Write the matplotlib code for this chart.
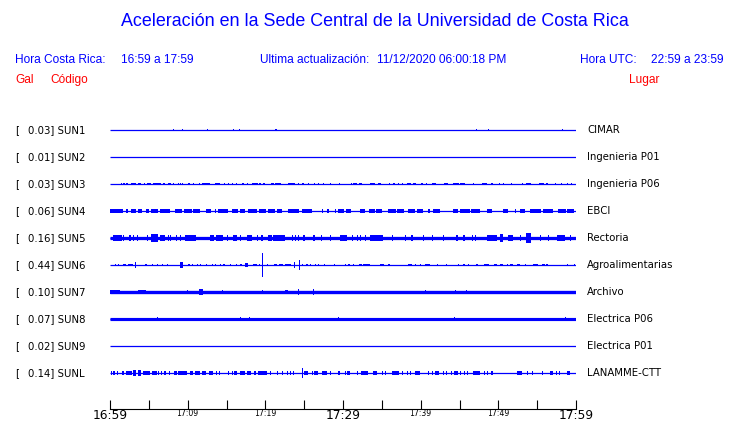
import matplotlib
matplotlib.use("Agg")
import matplotlib.pyplot as plt
from matplotlib import transforms

BLUE = "#0000ff"
RED = "#ff0000"

title = "Aceleración en la Sede Central de la Universidad de Costa Rica"
hora_cr = "16:59 a 17:59"
hora_utc = "22:59 a 23:59"
actualizacion = "11/12/2020 06:00:18 PM"

# stations (top to bottom)
codes = ["SUN1", "SUN2", "SUN3", "SUN4", "SUN5", "SUN6", "SUN7", "SUN8", "SUN9", "SUNL"]
peak_gal = [0.03, 0.01, 0.03, 0.06, 0.16, 0.44, 0.10, 0.07, 0.02, 0.14]
places = ["CIMAR", "Ingenieria P01", "Ingenieria P06", "EBCI", "Rectoria",
          "Agroalimentarias", "Archivo", "Electrica P06", "Electrica P01", "LANAMME-CTT"]

# minutes after 16:59, 1 row = 1 Gal
tick_minutes = list(range(0, 61, 5))
tick_text = {0: "16:59", 10: "17:09", 20: "17:19", 30: "17:29", 40: "17:39", 50: "17:49", 60: "17:59"}

# continuous noise band (half width, Gal) and usual burst amplitude
band = [0, 0, 0, 0, 0.06, 0, 0.062, 0.058, 0, 0]
burst_amp = [0.055, 0, 0.055, 0.06, 0.095, 0.055, 0.085, 0.085, 0, 0.063]

# bursts: minute or (minute, duration)
bursts_sun1 = [8.07, 9.23, 12.5, 15.8, 16.6, 21.3, 47.1, 48.7, 58.2]
bursts_sun2 = []
bursts_sun3 = [1.42, 1.72, (2.02, .26), (2.7, .6), 3.65, 3.86, 4.42, (4.81, .43), (5.58, 1.0), 6.87,
               (7.43, .43), 8.15, 8.7, 9.0, 9.3, (10.1, .26), 10.7, 11.4, (11.9, 1.0), (13.5, .64),
               14.7, 15.15, 15.7, 16.2, 17.04, 17.6, (18.3, .7), (19.2, .26), (19.7, .3), (20.7, .4),
               (21.3, .77), (22.9, .86), 24.2, (24.7, .34), 25.5, 26.3, 26.8, 27.4, 28.3, 29.5, 31.0,
               (31.3, .5), (32.0, .5), (33.5, .56), (34.5, .43), 35.96, 36.5, 37.1, 37.6, (38.2, .5),
               (39.0, .4), 40.1, 40.7, (41.5, .5), (43.0, .56), (44.2, .7), (45.1, .6), 46.7,
               (47.9, .6), (49.0, .35), 50.1, 50.6, 51.6, 53.0, (53.6, .6), (55.3, .6), 56.2, 57.3,
               58.1, 58.8, 59.3]
bursts_sun4 = [(0.0, 1.7), (2.0, .26), (2.7, .6), (3.65, .5), (4.6, .43), (5.3, .86), (6.4, 1.3),
               (8.4, .9), (9.5, 1.0), (10.7, .86), (12.4, .64), 13.5, (13.95, 1.2), (15.7, .8),
               (16.7, .7), (17.8, 1.1), (19.2, .9), (20.3, .9), (21.5, .64), (22.9, 1.4), (24.7, 1.3),
               27.3, 28.0, 29.0, (29.4, .7), (30.4, .6), (32.2, .64), (33.3, .8), (34.3, .7),
               (35.8, 1.0), (37.0, .9), (38.4, .9), (39.5, .8), 41.0, (41.6, .86), (44.2, .64),
               (45.1, 1.2), (46.5, 1.1), (48.5, .64), (50.6, .64), 52.1, (52.8, .64), (54.1, 1.4),
               (55.7, 1.4), (57.7, 1.0), (58.9, .9)]
bursts_sun5 = [(0.43, 1.07), 1.7, 2.5, 3.0, 3.5, 4.7, (6.4, .64), 7.5, 7.7, 8.5, 9.0, (12.9, .43),
               (13.7, .86), 15.0, (15.9, .43), 16.7, (17.6, .64), 18.9, 19.5, (20.4, .43), 23.4, 23.8,
               24.2, 24.9, 26.2, 27.2, 28.3, (29.6, .86), 31.1, 31.8, 32.2, 32.8, (33.5, 1.7), 36.3,
               38.0, 38.8, 40.3, 41.4, 42.9, 44.6, 45.5, 46.6, 47.0, (48.5, 1.3), (51.3, .64), 52.8,
               55.4, 56.4, (57.5, 1.07), 59.2]
bursts_sun6 = [0.64, 1.07, (1.63, .43), (2.36, .64), 4.55, 5.36, 6.0, 6.65, 7.3, 10.1, 10.6, 11.2,
               11.6, 12.4, 13.1, 13.5, 14.2, 14.6, 15.4, 16.2, 16.8, (18.4, .5), 19.2, 20.2, (21.1, .35),
               (21.8, .43), 22.5, (22.7, .64), (24.7, .2), 25.3, 25.7, 26.4, 26.8, 27.5, 28.8, 30.2,
               30.7, 31.3, (32.0, .43), (32.6, .86), (34.8, .43), (35.8, .2), (38.4, .43), 39.3, 39.9,
               (40.6, .56), 42.1, 43.3, 44.8, 45.5, 46.1, (47.1, .3), (48.1, .64), (49.4, .43),
               (50.2, .43), 51.1, (51.5, .43), (52.4, .43), 53.4, (54.5, .64), (55.6, .43), 56.2,
               58.8, 59.7]
bursts_sun7 = [(0.0, 1.3), (3.6, 1.07), 9.9, 14.4, 19.6, (22.5, .43), 40.6, 45.8]
bursts_sun8 = [6.0, 16.7, 17.9, 29.3, 44.3, 58.6]
bursts_sun9 = []
bursts_sunl = [0.13, 0.43, 0.94, 1.6, (2.06, .73), (4.3, .86), (5.4, .64), 6.2, 6.6, 7.0, 7.6,
               (8.3, .3), (8.8, 1.07), (10.3, .43), (10.9, .7), (11.8, .6), 13.6, 14.0, 15.2, 15.7,
               (16.0, .3), (16.7, .64), (17.7, .43), 18.6, (19.1, 1.07), 20.6, 21.5, 22.1, 22.75, 23.2,
               23.6, (25.0, .5), 26.0, (26.3, .5), (27.3, .64), 28.3, 29.4, 30.2, 30.5, 30.7, 31.8,
               (32.3, .86), (33.9, .5), 35.0, 35.4, (36.3, .86), 37.6, 38.2, 38.6, (39.3, .56), 40.9,
               41.4, (41.8, .56), 42.9, 43.3, 43.9, (44.3, .56), 45.1, 45.6, 46.0, (46.7, .94), 48.1,
               48.5, 49.1, (52.4, .64), 53.7, 54.3, 55.6, (56.6, .43), 57.4, 57.8, (58.9, .35)]
bursts = [bursts_sun1, bursts_sun2, bursts_sun3, bursts_sun4, bursts_sun5,
          bursts_sun6, bursts_sun7, bursts_sun8, bursts_sun9, bursts_sunl]

# larger peaks: (minute, duration, amplitude Gal)
peaks_sun5 = [(5.3, .9, .14), (9.6, 1.5, .12), (21.0, 1.5, .12), (50.2, .4, .15), (53.6, .6, .17)]
peaks_sun6 = [(3.26, .13, .11), (9.0, .43, .12), (17.4, .43, .085), (19.55, .13, .44),
              (23.7, .13, .11), (24.3, .13, .2)]
peaks_sun7 = [(11.5, .43, .1), (24.2, .13, .11), (26.2, .13, .1), (44.4, .13, .085)]
peaks_sunl = [(3.0, .3, .1), (3.65, .35, .12), (12.7, .56, .09), (24.7, .13, .17)]
peaks = [[], [], [], [], peaks_sun5, peaks_sun6, peaks_sun7, [], [], peaks_sunl]

W, H = 740, 423
ROW_PX = 27  # pixels per Gal / per row
fig = plt.figure(figsize=(W / 100, H / 100), dpi=100)


def fx(x):
    return x / W


def fy(y):
    return 1 - y / H


hdr = dict(family="Liberation Sans", color=BLUE, fontsize=8.6, va="center")
fig.text(fx(375), fy(22), title, ha="center", va="center", color=BLUE,
         fontsize=12.9, family="Liberation Sans")
fig.text(fx(15), fy(60), "Hora Costa Rica:", **hdr)
fig.text(fx(121), fy(60), hora_cr, **hdr)
fig.text(fx(260), fy(60), "Ultima actualización:", **hdr)
fig.text(fx(377), fy(60), actualizacion, **hdr)
fig.text(fx(580), fy(60), "Hora UTC:", **hdr)
fig.text(fx(651), fy(60), hora_utc, **hdr)
red = dict(family="Liberation Sans", color=RED, fontsize=8.6, va="center")
fig.text(fx(15), fy(80), "Gal", **red)
fig.text(fx(50), fy(80), "Código", **red)
fig.text(fx(629), fy(80), "Lugar", **red)

top_px, axis_px = 117, 408.5
ax = fig.add_axes([fx(110), fy(axis_px), (576 - 110) / W, (axis_px - top_px) / H])
ax.set_xlim(0, 60)
ax.set_ylim(-(axis_px - 130) / ROW_PX, (130 - top_px) / ROW_PX)

for i in range(len(codes)):
    row = -i
    ax.hlines(row, 0, 60, color=BLUE, lw=0.9)
    if band[i]:
        # continuous band drawn as a thick line (width in points)
        ax.hlines(row, 0, 60, color=BLUE, lw=2 * band[i] * ROW_PX * 0.72, capstyle="butt")
    starts, widths = [], []
    for b in bursts[i]:
        t, w = (b, 0.15) if not isinstance(b, tuple) else b
        starts.append(t)
        widths.append(w)
    if starts:
        a = burst_amp[i]
        ax.bar(starts, 2 * a, width=widths, bottom=row - a, align="edge", color=BLUE, lw=0)
    for t, w, a in peaks[i]:
        ax.bar(t, 2 * a, width=w, bottom=row - a, align="edge", color=BLUE, lw=0)

row_tf = transforms.blended_transform_factory(fig.transFigure, ax.transData)
lbl = dict(family="DejaVu Sans", fontsize=7.3, color="black", va="center", transform=row_tf)
for i, code in enumerate(codes):
    ax.text(fx(15), -i, "[", **lbl)
    ax.text(fx(28), -i, f"{peak_gal[i]:.2f}] {code}", **lbl)
    ax.text(fx(587), -i, places[i], **lbl)

for s in ["top", "left", "right"]:
    ax.spines[s].set_visible(False)
ax.spines["bottom"].set_linewidth(0.8)
ax.set_yticks([])
ax.set_xticks(tick_minutes)
ax.set_xticklabels([tick_text.get(m, "") for m in tick_minutes])
ax.tick_params(axis="x", direction="in", length=6.5, width=0.8, pad=0.5, colors="black")
for t, m in zip(ax.get_xticklabels(), tick_minutes):
    t.set_fontsize(8.8 if m % 30 == 0 else 5.6)
    t.set_family("DejaVu Sans")

fig.savefig("out.png", dpi=100)
